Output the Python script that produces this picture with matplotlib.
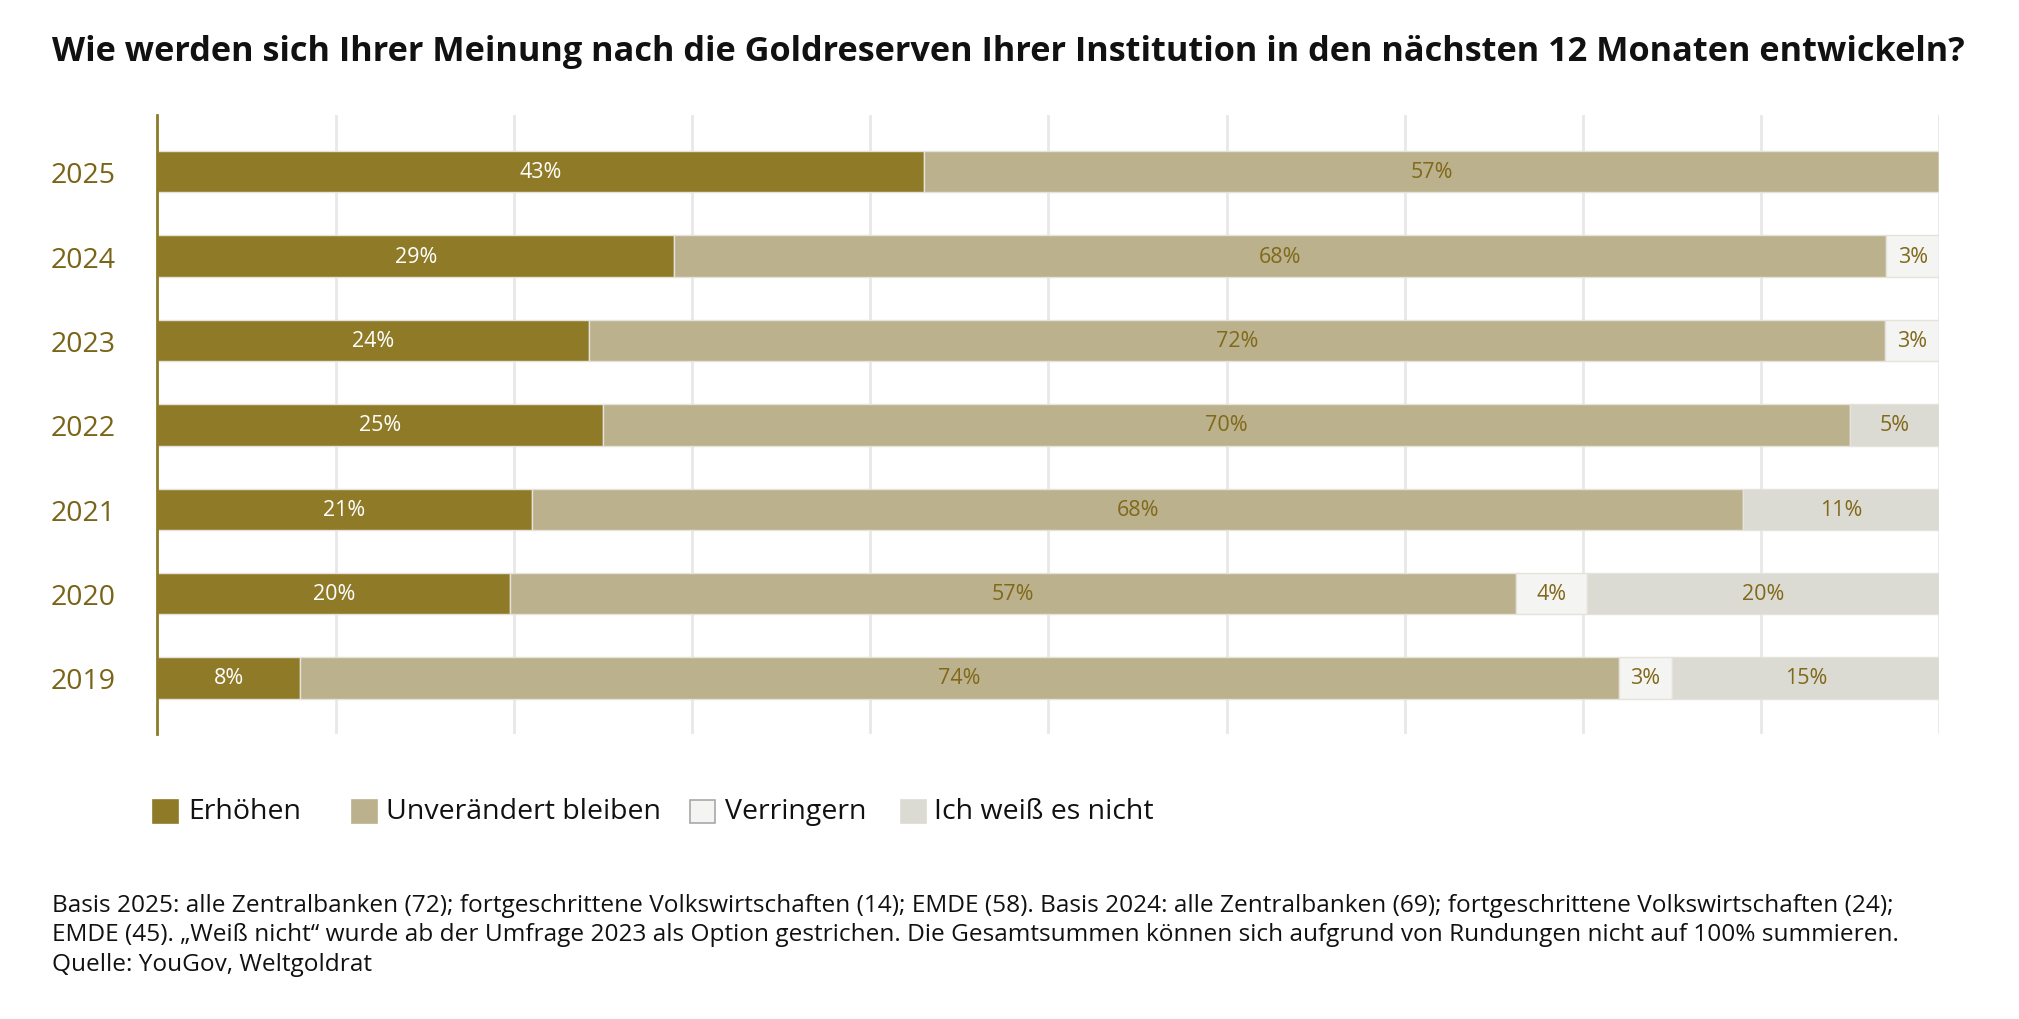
import matplotlib
matplotlib.use("Agg")
import matplotlib.pyplot as plt
import numpy as np
from matplotlib.patches import Rectangle

years = ["2025", "2024", "2023", "2022", "2021", "2020", "2019"]
series_names = ["Erhöhen", "Unverändert bleiben", "Verringern", "Ich weiß es nicht"]
erhoehen = [43, 29, 24, 25, 21, 20, 8]
unveraendert = [57, 68, 72, 70, 68, 57, 74]
verringern = [0, 3, 3, 0, 0, 4, 3]
weiss_nicht = [0, 0, 0, 5, 11, 20, 15]

title = "Wie werden sich Ihrer Meinung nach die Goldreserven Ihrer Institution in den nächsten 12 Monaten entwickeln?"
footnote = ("Basis 2025: alle Zentralbanken (72); fortgeschrittene Volkswirtschaften (14); EMDE (58). Basis 2024: alle Zentralbanken (69); fortgeschrittene Volkswirtschaften (24);\n"
            "EMDE (45). „Weiß nicht“ wurde ab der Umfrage 2023 als Option gestrichen. Die Gesamtsummen können sich aufgrund von Rundungen nicht auf 100% summieren.\n"
            "Quelle: YouGov, Weltgoldrat")

colors = ["#8F7B27", "#BBB18C", "#F4F4F2", "#DCDBD3"]
legend_edges = ["#8F7B27", "#BBB18C", "#A8A8A8", "#DCDBD3"]
label_colors = ["white", "#80691A", "#80691A", "#80691A"]
olive_text = "#7A6418"

plt.rcParams['font.family'] = ['Open Sans', 'DejaVu Sans']

W, H = 2019, 1020
fig = plt.figure(figsize=(W / 100, H / 100), dpi=100)
ax = fig.add_axes([0.078, 0.279, 0.8826, 0.607])

data = np.array([erhoehen, unveraendert, verringern, weiss_nicht], dtype=float)
totals = data.sum(axis=0)
shares = data / totals * 100.0
y = np.arange(len(years))

left = np.zeros(len(years))
for i in range(4):
    ax.barh(y, shares[i], left=left, height=0.49, color=colors[i],
            edgecolor="#E4E2DA", linewidth=1.0, zorder=3, label=series_names[i])
    for j in range(len(years)):
        v = data[i, j]
        if v > 0:
            ax.text(left[j] + shares[i, j] / 2, y[j], f"{int(v)}%", ha="center", va="center",
                    fontsize=15.5, color=label_colors[i], zorder=5)
    left += shares[i]

ax.set_xlim(0, 100)
ax.set_ylim(len(years) - 0.33, -0.67)
ax.set_xticks(np.arange(0, 101, 10))
ax.set_xticklabels([])
ax.tick_params(axis="x", length=0)
ax.set_yticks(y)
ax.set_yticklabels(years, fontsize=20.5, color=olive_text)
ax.tick_params(axis="y", length=0, pad=30)
ax.grid(axis="x", color="#E8E8E8", linewidth=2.0, zorder=0)
ax.set_axisbelow(True)
for s in ["top", "right", "bottom"]:
    ax.spines[s].set_visible(False)
ax.spines["left"].set_color("#8F7B27")
ax.spines["left"].set_linewidth(2.0)
ax.spines["left"].set_zorder(6)

fig.text(0.0258, 0.9495, title, fontsize=24.7, fontweight="bold", color="#111111", ha="left", va="center")

# legend, drawn manually to match the reference spacing
sq_x = [153, 352, 690, 901]
tx_x = [188, 386, 725, 934]
ly = 812
sq_w, sq_h = 25, 23
for k in range(4):
    fig.add_artist(Rectangle((sq_x[k] / W, 1 - (ly + sq_h / 2) / H), sq_w / W, sq_h / H,
                             transform=fig.transFigure, facecolor=colors[k],
                             edgecolor=legend_edges[k], linewidth=1.2))
    fig.text(tx_x[k] / W, 1 - ly / H, series_names[k], fontsize=20.5, color="#111111",
             ha="left", va="center")

fig.text(0.0258, 0.083, footnote, fontsize=17.6, color="#111111", ha="left", va="center", linespacing=1.3)

fig.savefig("out.png", dpi=100, facecolor="white")
